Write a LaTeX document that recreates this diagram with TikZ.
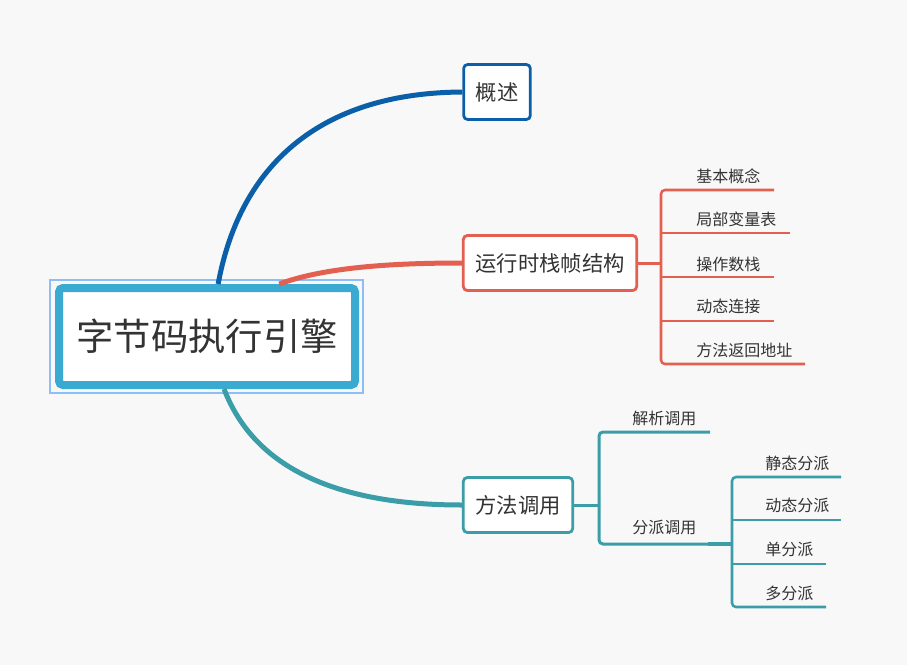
\documentclass[tikz,border=0pt]{standalone}
\usepackage{fontspec}
\setmainfont{Noto Sans CJK SC}
\usetikzlibrary{positioning,calc}
\definecolor{bgcol}{RGB}{248,248,248}
\definecolor{txtcol}{RGB}{51,51,51}
\definecolor{rootcol}{RGB}{59,170,209}
\definecolor{selcol}{RGB}{140,190,248}
\definecolor{bluecol}{RGB}{10,95,168}
\definecolor{redcol}{RGB}{227,96,80}
\definecolor{tealcol}{RGB}{58,157,168}
\tikzset{
every node/.style={text=txtcol}, % dark grey text everywhere
root/.style={draw=rootcol, line width=6pt, fill=white, rounded corners=3pt,
  minimum width=222pt, minimum height=72.75pt, font=\fontsize{28}{32}\selectfont},
topic/.style={draw=#1, line width=2.1pt, fill=white, rounded corners=3pt,
  inner xsep=9pt, minimum height=41.25pt, font=\fontsize{16}{19}\selectfont},
leaf/.style={anchor=west, inner sep=0pt, font=\fontsize{12}{14}\selectfont},
branch/.style={draw=#1, line width=3.75pt}, % the curved main branches
twig/.style={draw=#1, line width=1.9pt, rounded corners=3pt}, % brackets and underlines
}

\begin{document}
\begin{tikzpicture}[x=0.75pt, y=-0.75pt]
\fill[bgcol] (0,0) rectangle (907,665);

% main topics
\node[root] (core) at (207,336.5) {字节码执行引擎};
\draw[selcol, line width=1.1pt] ([shift={(-5,-4)}]core.north west) rectangle ([shift={(4,4)}]core.south east);
\node[topic=bluecol] (overview) at (497,92) {概述};
\node[topic=redcol] (frame) at (550,263) {运行时栈帧结构};
\node[topic=tealcol] (invoke) at (518,505) {方法调用};

\draw[branch=bluecol] (core.78) .. controls (238,175) and (310,93) .. (overview.west);
\draw[branch=redcol] (core.36) .. controls (320,269) and (380,263) .. (frame.west);
\draw[branch=tealcol] (core.-72) .. controls (255,470) and (340,505) .. (invoke.west);

% stack frame parts
\coordinate (framebar) at (661,263);
\node[leaf] (concept) at (696,176) {基本概念};
\node[leaf] (locals) at (696,219) {局部变量表};
\node[leaf] (opstack) at (696,264) {操作数栈};
\node[leaf] (dynlink) at (696,306) {动态连接};
\node[leaf] (retaddr) at (696,350) {方法返回地址};
\coordinate (concept-end) at (774,190);
\coordinate (locals-end) at (790,233);
\coordinate (opstack-end) at (774,277);
\coordinate (dynlink-end) at (774,321);
\coordinate (retaddr-end) at (805,364);

\draw[twig=redcol, line width=2.25pt] (frame.east) -- (framebar);
\draw[twig=redcol] (concept-end) -- (framebar |- concept-end) -- (framebar |- retaddr-end) -- (retaddr-end);
\draw[twig=redcol] (framebar |- locals-end) -- (locals-end);
\draw[twig=redcol] (framebar |- opstack-end) -- (opstack-end);
\draw[twig=redcol] (framebar |- dynlink-end) -- (dynlink-end);

% method invocation parts
\coordinate (invokebar) at (599,505);
\node[leaf] (resolve) at (632,418) {解析调用};
\node[leaf] (dispatch) at (632,527) {分派调用};
\coordinate (resolve-end) at (710,432);
\coordinate (dispatch-end) at (708,544);
\coordinate (dispatchbar) at (732,544);

\draw[twig=tealcol, line width=2.25pt] (invoke.east) -- (invokebar);
\draw[twig=tealcol, line width=2.25pt] (resolve-end) -- (invokebar |- resolve-end) -- (invokebar |- dispatch-end) -- (dispatch-end);
\draw[tealcol, line width=3pt] (dispatch-end) -- (dispatchbar);

\node[leaf] (static) at (765,463) {静态分派};
\node[leaf] (dynamic) at (765,505) {动态分派};
\node[leaf] (single) at (765,549) {单分派};
\node[leaf] (multi) at (765,593) {多分派};
\coordinate (static-end) at (841,477);
\coordinate (dynamic-end) at (841,520);
\coordinate (single-end) at (826,564);
\coordinate (multi-end) at (826,607);

\draw[twig=tealcol] (static-end) -- (dispatchbar |- static-end) -- (dispatchbar |- multi-end) -- (multi-end);
\draw[twig=tealcol] (dispatchbar |- dynamic-end) -- (dynamic-end);
\draw[twig=tealcol] (dispatchbar |- single-end) -- (single-end);

\end{tikzpicture}
\end{document}
